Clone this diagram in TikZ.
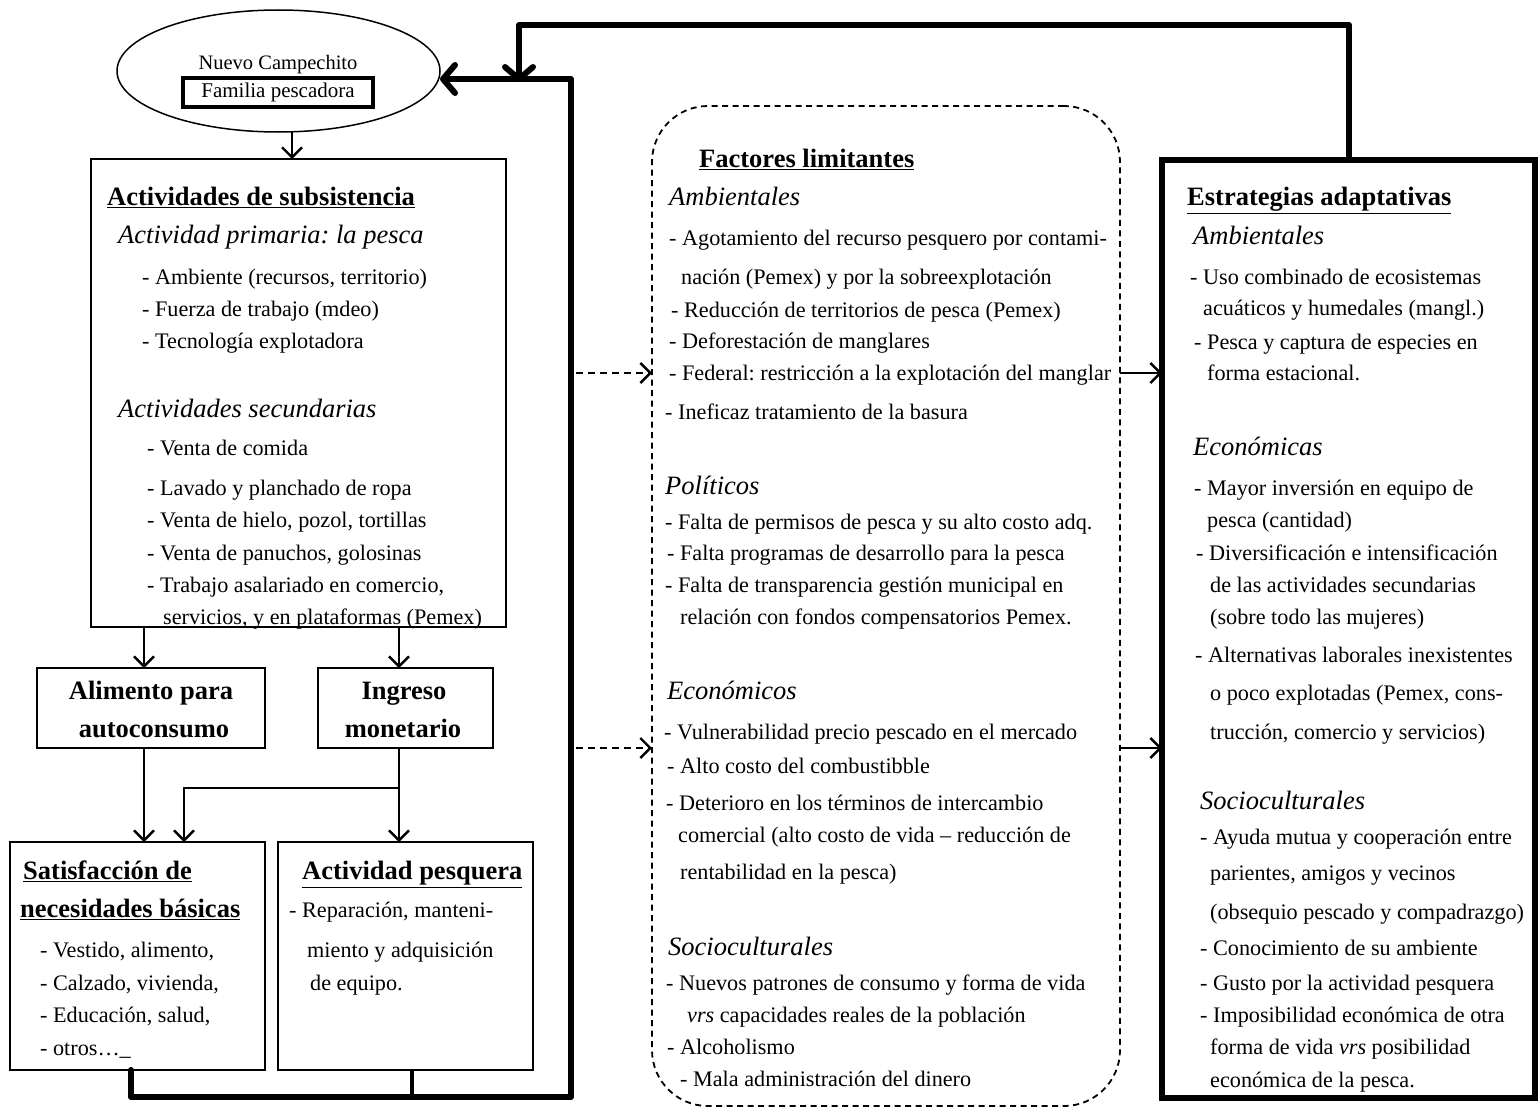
\documentclass[tikz,border=0pt]{standalone}
\usepackage{fontspec}
\setmainfont{Liberation Serif}
\frenchspacing
\usetikzlibrary{arrows.meta,shapes.geometric}
\newcounter{tlc}
\newcommand\tline[3]{\stepcounter{tlc}\node[txt] (t\arabic{tlc}) at (#1,#2) {#3};}
\newcommand\hd[1]{{\fontsize{26.5}{30}\selectfont\bfseries\underline{#1}}}
\newcommand\sh[1]{{\fontsize{26.5}{30}\selectfont\itshape #1}}
\newcommand\bt[1]{{\fontsize{26.5}{30}\selectfont\bfseries #1}}
\begin{document}
\begin{tikzpicture}[x=1pt,y=-1pt,
  txt/.style={anchor=mid west,inner sep=0pt,yshift=-5.5pt,font=\fontsize{22.2}{26}\selectfont},
  ctxt/.style={anchor=mid,inner sep=0pt,yshift=-5.5pt,font=\fontsize{22.2}{26}\selectfont},
  box/.style={draw,line width=1.5pt,inner sep=0pt,outer sep=0pt},
  arr/.style={line width=2.4pt,-{Straight Barb[length=10pt,width=20pt,line width=2.4pt]}},
  darr/.style={line width=2.4pt,dash pattern=on 7pt off 5pt,-{Straight Barb[length=10pt,width=20pt,line width=2.4pt]}},
  heavy/.style={line width=6pt,line join=round,line cap=round},
  harr/.style={line width=6pt,line join=round,-{Straight Barb[length=12pt,width=28pt,line width=6pt,round]}},
]
\useasboundingbox (0,0) rectangle (1538,1108);

% ---------- boxes ----------
\node[draw,ellipse,line width=1.5pt,inner sep=0pt,outer sep=0pt,minimum width=323pt,minimum height=122pt] (nc) at (278.5,71) {};
\node[ctxt,font=\fontsize{20.5}{24}\selectfont] (ncname) at (278,62) {Nuevo Campechito};
\node[box,line width=3.5pt,minimum width=190pt,minimum height=29pt,font=\fontsize{21}{24}\selectfont] (fam) at (278,92.5) {Familia pescadora};

\node[box,minimum width=415pt,minimum height=468pt] (subs) at (298.5,393) {};
\node[box,minimum width=228pt,minimum height=80pt] (alim) at (151,708) {};
\node[box,minimum width=175pt,minimum height=80pt] (ingr) at (405.5,708) {};
\node[box,minimum width=255pt,minimum height=228pt] (satis) at (137.5,956) {};
\node[box,minimum width=255pt,minimum height=228pt] (actp) at (405.5,956) {};
\node[draw,line width=1.8pt,dash pattern=on 6pt off 4.5pt,rounded corners=56pt,inner sep=0pt,outer sep=0pt,minimum width=468pt,minimum height=1000pt] (fact) at (886,606) {};
\node[box,line width=5.5pt,minimum width=373pt,minimum height=938pt] (estr) at (1348.5,629) {};

% ---------- helper coordinates ----------
\coordinate (x292) at (292,0);
\coordinate (x144) at (144,0);
\coordinate (x399) at (399,0);
\coordinate (x184) at (184,0);
\coordinate (x131) at (131,0);
\coordinate (x412) at (412,0);
\coordinate (x1349) at (1349,0);
\coordinate (br) at (399,788);
\coordinate (bl) at (131,1097);
\coordinate (bm) at (412,1097);
\coordinate (brc) at (571,1097);
\coordinate (trc) at (571,79);
\coordinate (top) at (1349,25);
\coordinate (tl) at (519,25);
\coordinate (tld) at (519,79);
\coordinate (ya) at (0,373);
\coordinate (yb) at (0,748);
\coordinate (da) at (576,373);
\coordinate (db) at (576,748);

% ---------- connectors ----------
\draw[arr] (nc.south -| x292) -- (subs.north -| x292);
\draw[arr] (subs.south -| x144) -- (alim.north -| x144);
\draw[arr] (subs.south -| x399) -- (ingr.north -| x399);
\draw[arr] (alim.south -| x144) -- (satis.north -| x144);
\draw[arr] (ingr.south -| x399) -- (actp.north -| x399);
\draw[arr] (br) -| (satis.north -| x184);

\draw[heavy] (satis.south -| x131) -- (bl) -- (brc) -- (trc);
\draw[line width=3.5pt] (actp.south -| x412) -- (bm);
\draw[harr] (trc) -- ([yshift=-8pt]nc.east);
\draw[harr] (estr.north -| x1349) -- (top) -- (tl) -- ([yshift=-3pt]tld);

\draw[darr] (da) -- (fact.west |- ya);
\draw[darr] (db) -- (fact.west |- yb);
\draw[arr] (fact.east |- ya) -- (estr.west |- ya);
\draw[arr] (fact.east |- yb) -- (estr.west |- yb);

% ---------- left box text ----------
\tline{107}{198}{\hd{Actividades de subsistencia}}
\tline{118}{236}{\sh{Actividad primaria: la pesca}}
\tline{142}{277}{- Ambiente (recursos, territorio)}
\tline{142}{309}{- Fuerza de trabajo (mdeo)}
\tline{142}{341}{- Tecnología explotadora}
\tline{118}{410}{\sh{Actividades secundarias}}
\tline{147}{448}{- Venta de comida}
\tline{147}{488}{- Lavado y planchado de ropa}
\tline{147}{520}{- Venta de hielo, pozol, tortillas}
\tline{147}{553}{- Venta de panuchos, golosinas}
\tline{147}{585}{- Trabajo asalariado en comercio,}
\tline{163}{617}{servicios, y en plataformas (Pemex)}

\node[ctxt] (al1) at (151,692) {\bt{Alimento para}};
\node[ctxt] (al2) at (154,730) {\bt{autoconsumo}};
\node[ctxt] (in1) at (404,692) {\bt{Ingreso}};
\node[ctxt] (in2) at (403,730) {\bt{monetario}};

\tline{23}{872}{\hd{Satisfacción de}}
\tline{20}{910}{\hd{necesidades básicas}}
\tline{40}{950}{- Vestido, alimento,}
\tline{40}{983}{- Calzado, vivienda,}
\tline{40}{1015}{- Educación, salud,}
\tline{40}{1048}{- otros…\_}

\tline{302}{872}{\hd{Actividad pesquera}}
\tline{289}{910}{- Reparación, manteni-}
\tline{307}{950}{miento y adquisición}
\tline{310}{983}{de equipo.}

% ---------- middle text ----------
\tline{699}{160}{\hd{Factores limitantes}}
\tline{669}{198}{\sh{Ambientales}}
\tline{669}{238}{- Agotamiento del recurso pesquero por contami-}
\tline{681}{277}{nación (Pemex) y por la sobreexplotación}
\tline{671}{310}{- Reducción de territorios de pesca (Pemex)}
\tline{669}{341}{- Deforestación de manglares}
\tline{669}{373}{- Federal: restricción a la explotación del manglar}
\tline{665}{412}{- Ineficaz tratamiento de la basura}
\tline{665}{487}{\sh{Políticos}}
\tline{665}{522}{- Falta de permisos de pesca y su alto costo adq.}
\tline{667}{553}{- Falta programas de desarrollo para la pesca}
\tline{665}{585}{- Falta de transparencia gestión municipal en}
\tline{680}{617}{relación con fondos compensatorios Pemex.}
\tline{667}{692}{\sh{Económicos}}
\tline{664}{732}{- Vulnerabilidad precio pescado en el mercado}
\tline{667}{766}{- Alto costo del combustibble}
\tline{666}{803}{- Deterioro en los términos de intercambio}
\tline{678}{835}{comercial (alto costo de vida – reducción de}
\tline{680}{872}{rentabilidad en la pesca)}
\tline{668}{948}{\sh{Socioculturales}}
\tline{666}{983}{- Nuevos patrones de consumo y forma de vida}
\tline{687}{1015}{\textit{vrs} capacidades reales de la población}
\tline{667}{1047}{- Alcoholismo}
\tline{680}{1079}{- Mala administración del dinero}

% ---------- right text ----------
\tline{1187}{198}{\hd{Estrategias adaptativas}}
\tline{1193}{237}{\sh{Ambientales}}
\tline{1190}{277}{- Uso combinado de ecosistemas}
\tline{1203}{308}{acuáticos y humedales (mangl.)}
\tline{1194}{342}{- Pesca y captura de especies en}
\tline{1207}{373}{forma estacional.}
\tline{1193}{448}{\sh{Económicas}}
\tline{1194}{488}{- Mayor inversión en equipo de}
\tline{1207}{520}{pesca (cantidad)}
\tline{1196}{553}{- Diversificación e intensificación}
\tline{1210}{585}{de las actividades secundarias}
\tline{1210}{617}{(sobre todo las mujeres)}
\tline{1195}{655}{- Alternativas laborales inexistentes}
\tline{1210}{693}{o poco explotadas (Pemex, cons-}
\tline{1210}{732}{trucción, comercio y servicios)}
\tline{1200}{802}{\sh{Socioculturales}}
\tline{1200}{837}{- Ayuda mutua y cooperación entre}
\tline{1210}{873}{parientes, amigos y vecinos}
\tline{1210}{912}{(obsequio pescado y compadrazgo)}
\tline{1200}{948}{- Conocimiento de su ambiente}
\tline{1200}{983}{- Gusto por la actividad pesquera}
\tline{1200}{1015}{- Imposibilidad económica de otra}
\tline{1210}{1047}{forma de vida \textit{vrs} posibilidad}
\tline{1210}{1080}{económica de la pesca.}
\end{tikzpicture}
\end{document}
